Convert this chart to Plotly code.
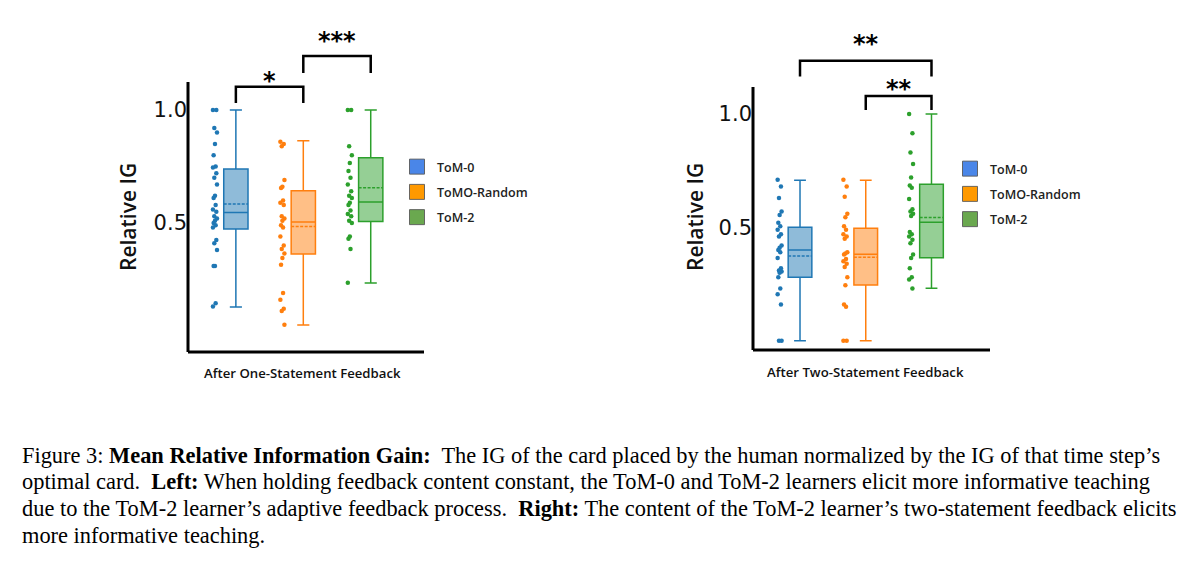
import plotly.graph_objects as go

# ---------------- data ----------------
groups = ["ToM-0", "ToM0-Random", "ToM-2"]
legend_labels = ["ToM-0", "ToMO-Random", "ToM-2"]

# After One-Statement Feedback (left)
left_points = {
    "ToM-0": [1.0, 1.0, 0.92, 0.90, 0.85, 0.80, 0.75, 0.745, 0.72, 0.70, 0.67, 0.62, 0.61, 0.58,
              0.56, 0.55, 0.53, 0.52, 0.51, 0.50, 0.49, 0.48, 0.425, 0.41, 0.38, 0.31, 0.31, 0.145, 0.13],
    "ToM0-Random": [0.86, 0.85, 0.84, 0.69, 0.66, 0.655, 0.60, 0.59, 0.58, 0.53, 0.52, 0.51, 0.49,
                    0.48, 0.44, 0.40, 0.385, 0.365, 0.345, 0.315, 0.19, 0.16, 0.12, 0.11, 0.05],
    "ToM-2": [1.0, 1.0, 0.84, 0.80, 0.765, 0.73, 0.70, 0.67, 0.64, 0.62, 0.61, 0.59, 0.58, 0.555,
              0.54, 0.53, 0.51, 0.50, 0.44, 0.43, 0.385, 0.235],
}
left_q1 = [0.473, 0.363, 0.506]
left_median = [0.546, 0.504, 0.593]
left_q3 = [0.739, 0.643, 0.789]
left_lower = [0.128, 0.049, 0.234]
left_upper = [1.0, 0.864, 1.0]
left_mean = [0.584, 0.484, 0.656]

# After Two-Statement Feedback (right)
right_points = {
    "ToM-0": [0.71, 0.68, 0.63, 0.57, 0.555, 0.52, 0.505, 0.49, 0.47, 0.46, 0.42, 0.41, 0.40, 0.39,
              0.365, 0.32, 0.31, 0.305, 0.30, 0.28, 0.23, 0.205, 0.16, 0.0, 0.0],
    "ToM0-Random": [0.71, 0.68, 0.635, 0.56, 0.545, 0.505, 0.49, 0.47, 0.46, 0.45, 0.39, 0.385, 0.38,
                    0.36, 0.35, 0.34, 0.325, 0.28, 0.245, 0.16, 0.15, 0.0, 0.0],
    "ToM-2": [1.0, 0.915, 0.83, 0.78, 0.72, 0.685, 0.675, 0.625, 0.58, 0.57, 0.56, 0.55, 0.48, 0.47,
              0.46, 0.445, 0.43, 0.38, 0.365, 0.32, 0.28, 0.27, 0.23],
}
right_q1 = [0.28, 0.246, 0.366]
right_median = [0.40, 0.381, 0.522]
right_q3 = [0.50, 0.496, 0.69]
right_lower = [0.0, 0.0, 0.231]
right_upper = [0.708, 0.708, 1.0]
right_mean = [0.374, 0.368, 0.543]

y_tick_vals = [0.5, 1.0]
y_tick_text = ["0.5", "1.0"]

# significance brackets: (from group, to group, label)
left_sig = [(0, 1, "*"), (1, 2, "***")]
right_sig = [(0, 2, "**"), (1, 2, "**")]

caption_lines = [
    "Figure 3: <b>Mean Relative Information Gain:</b>  The IG of the card placed by the human normalized by the IG of that time step\u2019s",
    "optimal card.  <b>Left:</b> When holding feedback content constant, the ToM-0 and ToM-2 learners elicit more informative teaching",
    "due to the ToM-2 learner\u2019s adaptive feedback process.  <b>Right:</b> The content of the ToM-2 learner\u2019s two-statement feedback elicits",
    "more informative teaching.",
]

# ---------------- styles ----------------
line_colors = ["#1f77b4", "#ff7f0e", "#2ca02c"]
fill_colors = ["rgba(31,119,180,0.5)", "rgba(255,127,14,0.5)", "rgba(44,160,44,0.5)"]
legend_colors = ["#4a86e8", "#ff9900", "#6aa84f"]
W, H = 1199, 572
SANS = "Open Sans"

def px(xp):
    return xp / W

def py(yp):
    return 1 - yp / H

fig = go.Figure()

panels = [
    dict(points=left_points, q1=left_q1, med=left_median, q3=left_q3, lo=left_lower, hi=left_upper,
         mean=left_mean, xa="x", ya="y", sig=left_sig, legend="legend",
         sig_levels=[(1.103, 1.031, 1.155), (1.239, 1.164, 1.332)]),
    dict(points=right_points, q1=right_q1, med=right_median, q3=right_q3, lo=right_lower, hi=right_upper,
         mean=right_mean, xa="x2", ya="y2", sig=right_sig, legend="legend2",
         sig_levels=[(1.235, 1.165, 1.335), (1.079, 1.018, 1.137)]),
]

jitter_pattern = [-0.03, 0.02, -0.01, 0.03, 0.0, -0.02, 0.01]
POINT_OFFSET = -0.31

for p in panels:
    for i, g in enumerate(groups):
        fig.add_trace(go.Box(
            x=[i], q1=[p["q1"][i]], median=[p["med"][i]], q3=[p["q3"][i]],
            lowerfence=[p["lo"][i]], upperfence=[p["hi"][i]], mean=[p["mean"][i]],
            boxmean=True, boxpoints=False, width=0.36, whiskerwidth=0.5,
            line=dict(color=line_colors[i], width=1.5), fillcolor=fill_colors[i],
            xaxis=p["xa"], yaxis=p["ya"], showlegend=False, name=g,
        ))
        vals = p["points"][g]
        xs = [i + POINT_OFFSET + jitter_pattern[k % len(jitter_pattern)] for k in range(len(vals))]
        fig.add_trace(go.Scatter(
            x=xs, y=vals, mode="markers",
            marker=dict(color=line_colors[i], size=4.5),
            xaxis=p["xa"], yaxis=p["ya"], showlegend=False, hoverinfo="y",
        ))
    # legend entries
    for i, lab in enumerate(legend_labels):
        fig.add_trace(go.Scatter(
            x=[None], y=[None], mode="markers", name=lab,
            marker=dict(symbol="square", size=15, color=legend_colors[i],
                        line=dict(color="rgba(90,90,90,0.9)", width=1)),
            xaxis=p["xa"], yaxis=p["ya"], legend=p["legend"], legendgroup=p["legend"] + lab,
        ))
    # x axis line
    fig.add_shape(type="line", xref=p["xa"] + " domain", yref=p["ya"] + " domain",
                  x0=0, x1=1, y0=0, y1=0, line=dict(color="black", width=3))
    # significance brackets
    for (a, b, lab), (top, leg, ytxt) in zip(p["sig"], p["sig_levels"]):
        fig.add_shape(type="path", xref=p["xa"], yref=p["ya"],
                      path=f"M {a},{leg} L {a},{top} L {b},{top} L {b},{leg}",
                      line=dict(color="black", width=2.5))
        fig.add_annotation(x=(a + b) / 2, y=ytxt, xref=p["xa"], yref=p["ya"], text=lab,
                           showarrow=False, yanchor="middle", yshift=-6,
                           font=dict(family="DejaVu Sans", size=24, color="black", weight="bold"))

# y axis lines (to the top of the data area only)
fig.add_shape(type="line", xref="x domain", yref="y", x0=0, x1=0, y0=-0.071, y1=1.124,
              line=dict(color="black", width=3))
fig.add_shape(type="line", xref="x2 domain", yref="y2", x0=0, x1=0, y0=-0.041, y1=1.119,
              line=dict(color="black", width=3))

common_x = dict(showgrid=False, zeroline=False, showline=False, showticklabels=False, ticks="")
common_y = dict(showgrid=False, zeroline=False, showline=False, ticks="",
                tickvals=y_tick_vals, ticktext=y_tick_text,
                tickfont=dict(family="DejaVu Sans", size=21, color="#111"))

fig.update_layout(
    width=W, height=H, margin=dict(l=0, r=0, t=0, b=0),
    paper_bgcolor="white", plot_bgcolor="white",
    xaxis=dict(domain=[px(188), px(424)], range=[-0.71, 2.79], anchor="y", **common_x),
    yaxis=dict(domain=[py(352), py(15.1)], range=[-0.071, 1.42], anchor="x", **common_y),
    xaxis2=dict(domain=[px(753), px(990)], range=[-0.715, 2.89], anchor="y2", **common_x),
    yaxis2=dict(domain=[py(350), py(18.8)], range=[-0.041, 1.42], anchor="x2", **common_y),
    legend=dict(x=px(397), y=py(152), xanchor="left", yanchor="top", tracegroupgap=6,
                font=dict(family=SANS, size=12.5, color="#222", weight=600), bgcolor="rgba(0,0,0,0)"),
    legend2=dict(x=px(950), y=py(154), xanchor="left", yanchor="top", tracegroupgap=6,
                 font=dict(family=SANS, size=12.5, color="#222", weight=600), bgcolor="rgba(0,0,0,0)"),
    showlegend=True,
)

# axis titles
for xc in [128, 695]:
    fig.add_annotation(x=px(xc), y=py(217), xref="paper", yref="paper", text="Relative IG",
                       textangle=-90, showarrow=False, xanchor="center", yanchor="middle",
                       font=dict(family=SANS, size=21, color="#111", weight=600))
for xc, yc, t in [(303, 373, "After One-Statement Feedback"), (866, 372, "After Two-Statement Feedback")]:
    fig.add_annotation(x=px(xc), y=py(yc), xref="paper", yref="paper", text=t,
                       showarrow=False, xanchor="center", yanchor="middle",
                       font=dict(family=SANS, size=13.2, color="#111", weight=600))

# caption
for k, line in enumerate(caption_lines):
    fig.add_annotation(x=px(20), y=py(455 + 26.7 * k), xref="paper", yref="paper", text=line,
                       showarrow=False, xanchor="left", yanchor="middle", align="left",
                       font=dict(family="Liberation Serif", size=22.4, color="black"))

fig.write_html("out.html")
